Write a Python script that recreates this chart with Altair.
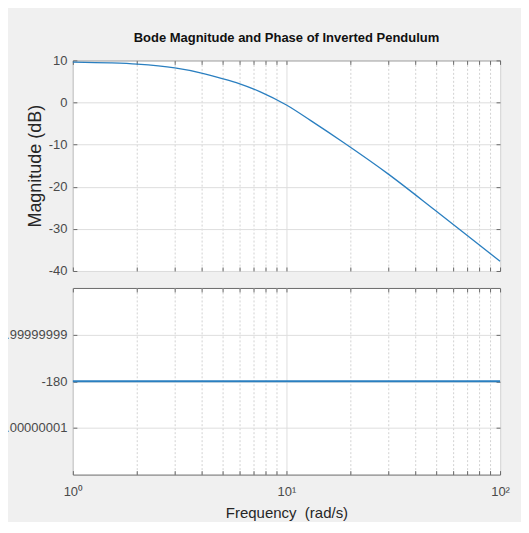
import json
import altair as alt
import pandas as pd

# ---- data ----
freq = [1, 1.5, 2, 3, 4, 5, 6, 7.5, 10, 13, 18.5, 30, 50, 70, 100]
magnitude_db = [9.6, 9.4, 9.1, 8.2, 7.0, 5.7, 4.5, 2.6, -0.6, -4.3, -9.5, -17.0, -25.7, -31.5, -37.7]
phase_freq = [1, 100]
phase_deg = [-180, -180]

freq_ticks = [1, 2, 3, 4, 5, 6, 7, 8, 9, 10, 20, 30, 40, 50, 60, 70, 80, 90, 100]
freq_major = [1, 10, 100]
freq_major_labels = ["10\u2070", "10\u00b9", "10\u00b2"]
mag_ticks = [10, 0, -10, -20, -30, -40]
phase_ticks = [-179.99999999, -180, -180.00000001]
phase_tick_labels = ["-179.99999999", "-180", "-180.00000001"]

TITLE = "Bode Magnitude and Phase of Inverted Pendulum"
XTITLE = "Frequency \u00a0(rad/s)"
YTITLE = "Magnitude (dB)"

# ---- styling ----
FONT = "Liberation Sans, Arial, sans-serif"
BG = "#f0f0f0"
BORDER = "#6a6a6a"
LABEL = "#4a4a4a"
MAJOR_GRID = "#dedede"
MINOR_GRID = "#d2d2d2"
BLUE = "#2a7fc0"

mag_df = pd.DataFrame({"freq": freq, "mag": magnitude_db})
phase_df = pd.DataFrame({"freq": phase_freq, "phase": phase_deg})

x_scale = alt.Scale(type="log", domain=[1, 100], nice=False)
mag_scale = alt.Scale(domain=[-40, 10], nice=False, zero=False)
phase_scale = alt.Scale(domain=[-180.00000002, -179.99999998], nice=False, zero=False)

major_test = "indexof(%s, datum.value) >= 0" % json.dumps(freq_major)
x_label_expr = " : ".join(
    "datum.value == %s ? '%s'" % (v, l) for v, l in zip(freq_major, freq_major_labels)
) + " : ''"
phase_label_expr = (
    "datum.value > %r ? '%s' : datum.value < %r ? '%s' : '%s'"
    % (phase_ticks[1], phase_tick_labels[0], phase_ticks[1], phase_tick_labels[2], phase_tick_labels[1])
)
mag_label_expr = "replace(datum.label, '\u2212', '-')"

TICK = 4


def x_bottom(show_labels):
    kw = dict(
        orient="bottom", values=freq_ticks, offset=-TICK, tickSize=TICK, domain=False,
        grid=True,
        gridDash={"condition": {"test": major_test, "value": []}, "value": [2, 2]},
        gridColor={"condition": {"test": major_test, "value": MAJOR_GRID}, "value": MINOR_GRID},
        labels=show_labels, labelFlush=False, labelOverlap=False,
    )
    if show_labels:
        kw.update(labelExpr=x_label_expr, labelPadding=11,
                  title=XTITLE, titlePadding=7, titleFontSize=15)
    else:
        kw.update(title=None)
    return alt.Axis(**kw)


x_top = alt.Axis(orient="top", values=freq_ticks, offset=-TICK, tickSize=TICK, domain=False,
                 grid=False, labels=False, title=None)


def y_left(values, title, label_expr):
    kw = dict(orient="left", values=values, offset=-TICK, tickSize=TICK, domain=False,
              grid=True, gridColor=MAJOR_GRID, labelPadding=6, labelExpr=label_expr,
              title=title, titlePadding=4, titleFontSize=18)
    return alt.Axis(**kw)


def y_right(values):
    return alt.Axis(orient="right", values=values, offset=-TICK, tickSize=TICK, domain=False,
                    grid=False, labels=False, title=None)


# ---- magnitude panel ----
mag_line = alt.Chart(mag_df).mark_line(color=BLUE, strokeWidth=1.3, interpolate="monotone").encode(
    x=alt.X("freq:Q", scale=x_scale, axis=x_bottom(False)),
    y=alt.Y("mag:Q", scale=mag_scale, axis=y_left(mag_ticks, YTITLE, mag_label_expr)),
)
mag_frame = alt.Chart(mag_df).mark_line(opacity=0).encode(
    x=alt.X("freq:Q", scale=x_scale, axis=x_top),
    y=alt.Y("mag:Q", scale=mag_scale, axis=y_right(mag_ticks)),
)
top = alt.layer(mag_line, mag_frame).resolve_axis(x="independent", y="independent").properties(
    width=428, height=211,
    title=alt.TitleParams(TITLE, font=FONT, fontSize=13, fontWeight="bold", color="#111111",
                          anchor="middle", offset=9),
)

# ---- phase panel ----
phase_line = alt.Chart(phase_df).mark_line(color=BLUE, strokeWidth=2).encode(
    x=alt.X("freq:Q", scale=x_scale, axis=x_bottom(True)),
    y=alt.Y("phase:Q", scale=phase_scale, axis=y_left(phase_ticks, None, phase_label_expr)),
)
phase_frame = alt.Chart(phase_df).mark_line(opacity=0).encode(
    x=alt.X("freq:Q", scale=x_scale, axis=x_top),
    y=alt.Y("phase:Q", scale=phase_scale, axis=y_right(phase_ticks)),
)
bottom = alt.layer(phase_line, phase_frame).resolve_axis(x="independent", y="independent").properties(
    width=428, height=187,
)

chart = alt.vconcat(top, bottom, spacing=17, bounds="flush").properties(
    background=BG,
    padding={"left": -29, "top": 23, "right": 11, "bottom": 0},
).configure_view(
    fill="white", stroke=BORDER, strokeWidth=1,
).configure_axis(
    labelFont=FONT, labelFontSize=13, labelColor=LABEL,
    titleFont=FONT, titleColor="#262626", titleFontWeight="normal",
    tickColor=BORDER, tickWidth=1, gridWidth=1,
)

chart.save("out.html", embed_options={"renderer": "svg", "actions": False})
